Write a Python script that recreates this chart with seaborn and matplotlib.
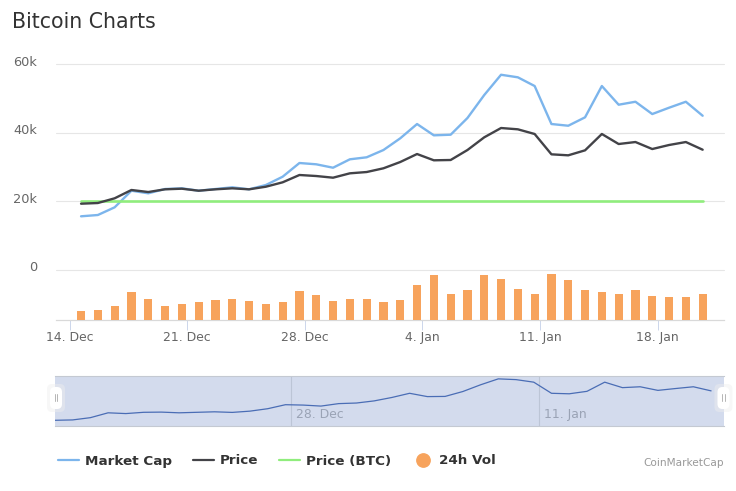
import numpy as np
import pandas as pd
import matplotlib
matplotlib.use("Agg")
import matplotlib.pyplot as plt
import matplotlib.dates as mdates
from matplotlib.lines import Line2D
from matplotlib.patches import FancyBboxPatch
from matplotlib.transforms import ScaledTranslation
import seaborn as sns

dates = pd.date_range("2020-12-14 16:30", periods=38, freq="D")
market_cap = [15.57,15.95,18.2,23.06,22.3,23.56,23.76,23.06,23.56,24.06,23.47,24.73,27.16,31.17,30.79,29.79,32.25,32.84,34.97,38.4,
              42.58,39.27,39.45,44.34,51.07,57.0,56.25,53.7,42.58,42.08,44.54,53.7,48.23,49.1,45.5,47.35,49.1,45.0]
price = [19.26,19.46,20.84,23.27,22.68,23.47,23.65,23.06,23.47,23.76,23.47,24.23,25.52,27.66,27.36,26.87,28.15,28.53,29.62,31.46,
         33.8,31.96,32.05,34.97,38.69,41.41,41.03,39.66,33.71,33.42,34.88,39.66,36.73,37.31,35.26,36.44,37.31,35.06]
price_btc = [20.1] * 38
volume = [8.7,10,13.7,27.3,21,13.7,16,17.3,19.7,21,18.7,16,17.3,28.3,24.7,18.7,21,21,17.3,19.7,
          34.7,44.3,26,29.7,44.3,40.7,31,26,45.7,39.3,29.7,27.3,26,29.7,23.3,22.3,22.3,26]
y_ticks = [0, 20, 40, 60]
y_labels = ["0", "20k", "40k", "60k"]
x_ticks = ["2020-12-14", "2020-12-21", "2020-12-28", "2021-01-04", "2021-01-11", "2021-01-18"]
x_labels = ["14. Dec", "21. Dec", "28. Dec", "4. Jan", "11. Jan", "18. Jan"]
nav_ticks = ["2020-12-28", "2021-01-11"]
nav_labels = ["28. Dec", "11. Jan"]

BLUE, DARK, GREEN, ORANGE = "#7cb5ec", "#434348", "#90ed7d", "#f7a35c"
W, H = 736, 491
sns.set_theme(style="white")
plt.rcParams["font.family"] = ["DejaVu Sans"]
fig = plt.figure(figsize=(W / 100, H / 100), dpi=100, facecolor="white")


def px_axes(x0, x1, y_top, y_bot, **kw):
    return fig.add_axes([x0 / W, 1 - y_bot / H, (x1 - x0) / W, (y_bot - y_top) / H], **kw)


x_num = mdates.date2num(dates)
df = pd.DataFrame({"x": x_num, "mc": market_cap, "price": price, "btc": price_btc, "vol": volume})
tick_num = mdates.date2num(pd.to_datetime(x_ticks))
px_per_day = 16.8
xlim = (tick_num[0] - (69.5 - 56) / px_per_day, tick_num[0] + (724 - 69.5) / px_per_day)

# main price axes
ax = px_axes(56, 724, 64.5, 319.5)
ax.set_facecolor("none")
sns.lineplot(data=df, x="x", y="mc", ax=ax, color=BLUE, lw=1.7, zorder=3, label="Market Cap")
sns.lineplot(data=df, x="x", y="btc", ax=ax, color=GREEN, lw=1.9, zorder=4, label="Price (BTC)")
sns.lineplot(data=df, x="x", y="price", ax=ax, color=DARK, lw=1.7, zorder=5, label="Price")
ax.set_xlim(*xlim)
ax.set_ylim(-50 / 3.417, 60)
ax.set_xlabel("")
ax.set_ylabel("")
ax.set_yticks(y_ticks)
ax.set_yticklabels(y_labels, color="#666666", fontsize=9.3, va="center")
ax.tick_params(axis="y", length=0, pad=13.5)
shift = ScaledTranslation(0, 2.0 / 100, fig.dpi_scale_trans)
for lab in ax.get_yticklabels():
    lab.set_transform(lab.get_transform() + shift)
for v in y_ticks:
    ax.axhline(v, color="#e6e6e6", lw=0.8, zorder=1, clip_on=False)
ax.set_xticks(tick_num)
ax.set_xticklabels(x_labels, color="#666666", fontsize=8.9)
ax.tick_params(axis="x", length=7.2, width=0.7, color="#ccd6eb", pad=1.2, bottom=True)
for s in ["top", "left", "right"]:
    ax.spines[s].set_visible(False)
ax.spines["bottom"].set_color("#d9d9d9")
ax.spines["bottom"].set_linewidth(0.9)
ax.get_legend().remove()

# volume axes
ax_v = px_axes(56, 724, 269.5, 319.5)
ax_v.patch.set_alpha(0)
sns.barplot(data=df, x="x", y="vol", ax=ax_v, native_scale=True, color=ORANGE, width=0.49,
            saturation=1, zorder=2, linewidth=0)
ax_v.set_xlim(*xlim)
ax_v.set_ylim(0, 50)
ax_v.axis("off")

# navigator
ax_n = px_axes(55, 724, 376, 425.5)
ax_n.set_facecolor("#d3dbed")
nav_num = mdates.date2num(pd.to_datetime(nav_ticks))
nav_per_day = (539.3 - 291) / 14
nav_lim = (nav_num[0] - (291 - 55) / nav_per_day, nav_num[0] + (724 - 291) / nav_per_day)
sns.lineplot(data=df, x="x", y="mc", ax=ax_n, color="#4a6db5", lw=0.9, zorder=3)
ax_n.set_xlim(*nav_lim)
ax_n.set_ylim(15.57 - 5.2, 15.57 + 44.3)
ax_n.set_xlabel("")
ax_n.set_ylabel("")
ax_n.set_yticks([])
ax_n.set_xticks([])
for v, t in zip(nav_num, nav_labels):
    ax_n.axvline(v, color="#bcc5d6", lw=0.8, zorder=2)
    ax_n.annotate(t, (v, 0), xycoords=("data", "axes fraction"), xytext=(3.6, 3.4),
                  textcoords="offset points", color="#9aa3b5", fontsize=8.9, va="bottom", ha="left")
for s in ax_n.spines.values():
    s.set_color("#c4c9d2")
    s.set_linewidth(0.8)
ax_n.spines["left"].set_visible(False)
ax_n.spines["right"].set_visible(False)

# navigator handles
for cx in (56, 723.5):
    for pad, col, alpha in ((3, "#eeeeee", 0.45), (0, "#ffffff", 1)):
        fig.add_artist(FancyBboxPatch(((cx - 3) / W, 1 - 406 / H), 6 / W, 16 / H,
                                      boxstyle=f"round,pad={(3 + pad) / W},rounding_size={5 / W}",
                                      mutation_aspect=W / H, fc=col, ec="none", alpha=alpha,
                                      transform=fig.transFigure, zorder=6))
    for dx in (-1.3, 1.3):
        fig.add_artist(Line2D([(cx + dx) / W] * 2, [1 - 394 / H, 1 - 401 / H], color="#b5b5b5", lw=0.7, zorder=7))

# title, credit
fig.text(12.5 / W, 1 - 22 / H, "Bitcoin Charts", color="#333333", fontsize=14.8, va="center", ha="left")
fig.text(724 / W, 1 - 463 / H, "CoinMarketCap", color="#999999", fontsize=7.6, va="center", ha="right")

# legend
handles = [Line2D([], [], color=BLUE, lw=1.6),
           Line2D([], [], color=DARK, lw=1.6),
           Line2D([], [], color=GREEN, lw=1.6),
           Line2D([], [], color=ORANGE, marker="o", ms=9.6, ls="none")]
leg = fig.legend(handles, ["Market Cap", "Price", "Price (BTC)", "24h Vol"], ncol=4, frameon=False,
                 loc="center left", bbox_to_anchor=(58 / W, 1 - 461 / H), borderpad=0, borderaxespad=0,
                 prop={"size": 9.7, "weight": "bold"}, handlelength=1.56, handletextpad=0.44,
                 columnspacing=1.55, labelcolor="#333333")

fig.savefig("out.png", dpi=100)
